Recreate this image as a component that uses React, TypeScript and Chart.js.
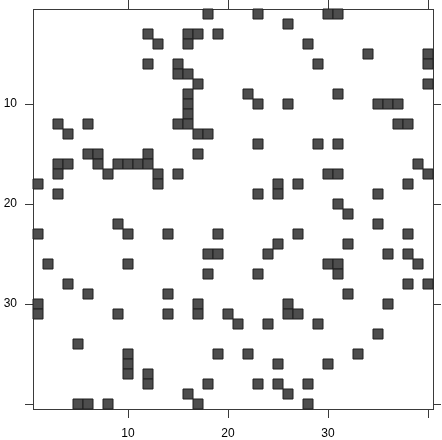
import { useEffect, useRef } from 'react';
import { Chart, registerables } from 'chart.js';

Chart.register(...registerables);

const nRows = 40;
const nCols = 40;
const tickValues = [10, 20, 30, 40];
const tickLabels = ['10', '20', '30', ''];

// non-zero column indices for each row 1..40
const colsByRow: number[][] = [
  [18, 23, 30, 31],
  [26],
  [12, 16, 17, 19],
  [13, 16, 28],
  [34, 40],
  [12, 15, 29, 40],
  [15, 16],
  [17, 40],
  [16, 22, 31],
  [16, 23, 26, 35, 36, 37],
  [16],
  [3, 6, 15, 16, 37, 38],
  [4, 17, 18],
  [23, 29, 31],
  [6, 7, 12, 17],
  [3, 4, 7, 9, 10, 11, 12, 39],
  [3, 8, 13, 15, 30, 31, 40],
  [1, 13, 25, 27, 38],
  [3, 23, 25, 35],
  [31],
  [32],
  [9, 35],
  [1, 10, 14, 19, 27, 38],
  [25, 32],
  [18, 19, 24, 36, 38],
  [2, 10, 30, 31, 39],
  [18, 23, 31],
  [4, 38, 40],
  [6, 14, 32],
  [1, 17, 26, 36],
  [1, 9, 14, 17, 20, 26, 27],
  [21, 24, 29],
  [35],
  [5],
  [10, 19, 22, 33],
  [10, 25, 30],
  [10, 12],
  [12, 18, 23, 25, 28],
  [16, 26],
  [5, 6, 8, 17, 28],
];

const AXIS_COLOR = '#3a3a3a';

export default function App() {
  const ref = useRef<HTMLCanvasElement | null>(null);

  useEffect(() => {
    if (!ref.current) return;
    const points = colsByRow.flatMap((cols, i) => cols.map((c) => ({ x: c, y: i + 1 })));

    const setTicks = (axis: any) => {
      axis.ticks = tickValues.map((v) => ({ value: v }));
    };
    const labelCb = (v: any) => {
      const idx = tickValues.indexOf(Number(v));
      return idx >= 0 ? tickLabels[idx] : '';
    };
    const fixSize = (w: number | null, h: number | null) => (s: any) => {
      if (w !== null) s.width = w;
      if (h !== null) s.height = h;
      s.paddingTop = 0;
      s.paddingBottom = 0;
      s.paddingLeft = 0;
      s.paddingRight = 0;
    };
    const gridOpts = (len: number) => ({
      display: true,
      drawOnChartArea: false,
      drawTicks: true,
      tickLength: len,
      color: AXIS_COLOR,
      lineWidth: 1,
    });
    const borderOpts = { display: true, color: AXIS_COLOR, width: 1 };
    const font = { family: '"Liberation Sans", Arial, sans-serif', size: 12 };
    const cellRadius = (ctx: any) => {
      const sx = ctx.chart.scales.x;
      const cell = Math.abs(sx.getPixelForValue(1) - sx.getPixelForValue(0));
      return cell / Math.SQRT2;
    };

    const chart = new Chart(ref.current, {
      type: 'scatter',
      data: {
        datasets: [
          {
            data: points,
            pointStyle: 'rect',
            backgroundColor: '#4d4d4d',
            borderColor: '#1e1e1e',
            borderWidth: 1,
            pointRadius: cellRadius,
            pointHoverRadius: cellRadius,
            clip: false as any,
          } as any,
        ],
      },
      options: {
        animation: false,
        responsive: false,
        devicePixelRatio: 1,
        events: [],
        layout: { padding: 0 },
        plugins: { legend: { display: false }, tooltip: { enabled: false }, title: { display: false } },
        scales: {
          x: {
            type: 'linear',
            position: 'bottom',
            min: 0.5,
            max: nCols + 0.5,
            afterBuildTicks: setTicks,
            afterFit: fixSize(null, 31),
            ticks: { callback: labelCb, color: '#000', font, padding: 8, maxRotation: 0, autoSkip: false },
            grid: gridOpts(9),
            border: borderOpts,
          },
          x2: {
            type: 'linear',
            position: 'top',
            min: 0.5,
            max: nCols + 0.5,
            afterBuildTicks: setTicks,
            afterFit: fixSize(null, 9),
            ticks: { display: false, autoSkip: false },
            grid: gridOpts(9),
            border: borderOpts,
          },
          y: {
            type: 'linear',
            position: 'left',
            reverse: true,
            min: 0.5,
            max: nRows + 0.5,
            afterBuildTicks: setTicks,
            afterFit: fixSize(33, null),
            ticks: { callback: labelCb, color: '#000', font, padding: 8, autoSkip: false },
            grid: gridOpts(8),
            border: borderOpts,
          },
          y2: {
            type: 'linear',
            position: 'right',
            reverse: true,
            min: 0.5,
            max: nRows + 0.5,
            afterBuildTicks: setTicks,
            afterFit: fixSize(9, null),
            ticks: { display: false, autoSkip: false },
            grid: gridOpts(8),
            border: borderOpts,
          },
        },
      } as any,
    });
    return () => chart.destroy();
  }, []);

  return (
    <div style={{ position: 'fixed', left: 0, top: 0, width: 442, height: 440, background: '#fff' }}>
      <canvas ref={ref} width={442} height={440} style={{ width: 442, height: 440, display: 'block' }} />
    </div>
  );
}
